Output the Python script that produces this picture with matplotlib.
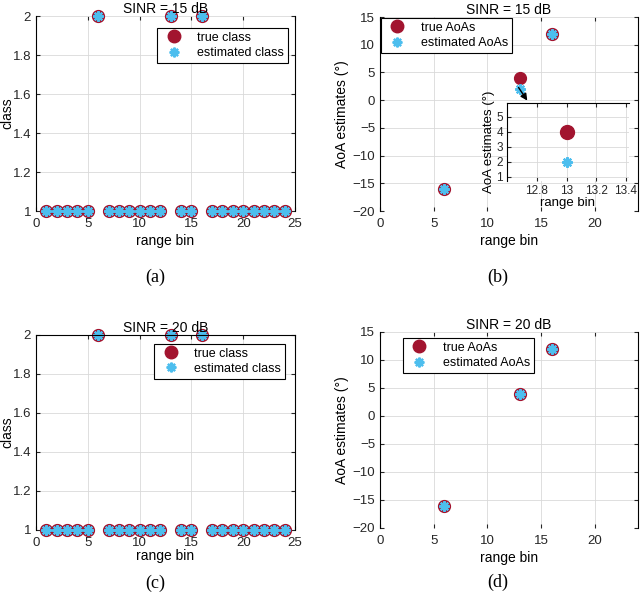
import matplotlib.pyplot as plt
import numpy as np

plt.rcParams['font.family'] = ['Liberation Sans', 'DejaVu Sans']
plt.rcParams['font.size'] = 9

# data
bins = list(range(1, 25))
true_class_15 = [1, 1, 1, 1, 1, 2, 1, 1, 1, 1, 1, 1, 2, 1, 1, 2, 1, 1, 1, 1, 1, 1, 1, 1]
est_class_15 = [1, 1, 1, 1, 1, 2, 1, 1, 1, 1, 1, 1, 2, 1, 1, 2, 1, 1, 1, 1, 1, 1, 1, 1]
true_class_20 = [1, 1, 1, 1, 1, 2, 1, 1, 1, 1, 1, 1, 2, 1, 1, 2, 1, 1, 1, 1, 1, 1, 1, 1]
est_class_20 = [1, 1, 1, 1, 1, 2, 1, 1, 1, 1, 1, 1, 2, 1, 1, 2, 1, 1, 1, 1, 1, 1, 1, 1]

target_bins = [6, 13, 16]
true_aoa_15 = [-16, 4, 12]
est_aoa_15 = [-16, 2, 12]
true_aoa_20 = [-16, 4, 12]
est_aoa_20 = [-16, 4, 12]

RED = '#A2142F'
BLUE = '#4DBEEE'
STAR = (8, 2, 0)

fig = plt.figure(figsize=(6.4, 6.0), dpi=100)


def style(ax, hide_top=True, hide_bottom=True):
    ax.grid(True, color='#d9d9d9', linewidth=0.6)
    ax.set_axisbelow(True)
    ax.tick_params(direction='in', length=3, top=True, right=True,
                   colors='#262626', labelsize=9.5)
    ax.tick_params(axis='x', pad=5)
    for s in ['left', 'right']:
        ax.spines[s].set_color('black')
        ax.spines[s].set_linewidth(0.8)
    ax.spines['top'].set_visible(not hide_top)
    ax.spines['bottom'].set_visible(not hide_bottom)


def draw(ax, x, t, e, ms_t=8.5, ms_e=7.5):
    ax.plot(x, t, 'o', color=RED, markersize=ms_t, linestyle='none')
    ax.plot(x, e, marker=STAR, color=BLUE, markeredgecolor=BLUE, markersize=ms_e,
            markeredgewidth=1.6, linestyle='none')


def legend(ax, labels, loc, anchor):
    h1 = plt.Line2D([], [], marker='o', color=RED, markersize=9, linestyle='none')
    h2 = plt.Line2D([], [], marker=STAR, color=BLUE, markeredgecolor=BLUE,
                    markersize=7, markeredgewidth=1.6, linestyle='none')
    lg = ax.legend([h1, h2], labels, loc=loc, bbox_to_anchor=anchor,
                   fancybox=False, framealpha=1, edgecolor='black',
                   borderpad=0.3, borderaxespad=0, handletextpad=0.9,
                   labelspacing=0.25, handlelength=2.0, fontsize=9)
    lg.get_frame().set_linewidth(0.8)


def ylab(ax, text, xpos):
    ax.set_ylabel(text, fontsize=10)
    ax.yaxis.set_label_coords(xpos, 0.5)


# (a)
ax = fig.add_axes([0.05625, 0.6483, 0.4047, 0.325])
draw(ax, bins, true_class_15, est_class_15)
ax.set_xlim(0, 25)
ax.set_ylim(1, 2)
ax.set_xticks(np.arange(0, 26, 5))
ax.set_yticks(np.arange(1, 2.01, 0.2))
ax.set_yticklabels(['1', '1.2', '1.4', '1.6', '1.8', '2'])
style(ax)
ax.set_title('SINR = 15 dB', fontsize=10, pad=2)
ax.set_xlabel('range bin', fontsize=10, labelpad=3)
ylab(ax, 'class', -0.083)
for m in ax.lines:
    m.set_clip_on(False)
legend(ax, ['true class', 'estimated class'], 'upper right', (0.973, 0.938))

# (b)
ax = fig.add_axes([0.59375, 0.6483, 0.403, 0.3233])
draw(ax, target_bins, true_aoa_15, est_aoa_15)
ax.set_xlim(0, 24)
ax.set_ylim(-20, 15)
ax.set_xticks([0, 5, 10, 15, 20])
ax.set_yticks(np.arange(-20, 16, 5))
style(ax)
ax.set_title('SINR = 15 dB', fontsize=10, pad=2)
ax.set_xlabel('range bin', fontsize=10, labelpad=3)
ylab(ax, 'AoA estimates (°)', -0.12)
legend(ax, ['true AoAs', 'estimated AoAs'], 'upper left', (0.004, 0.995))
ax.annotate('', xy=(13.85, -0.5), xytext=(12.75, 2.7),
            arrowprops=dict(arrowstyle='-|>', color='black', lw=1.0,
                            mutation_scale=10))

# inset
ins = fig.add_axes([0.7922, 0.6983, 0.1906, 0.13])
draw(ins, [13], [true_aoa_15[1]], [est_aoa_15[1]], ms_t=10, ms_e=7.5)
ins.set_xlim(12.6, 13.42)
ins.set_ylim(0.73, 5.9)
ins.set_xticks([12.8, 13, 13.2, 13.4])
ins.set_xticklabels(['12.8', '13', '13.2', '13.4'])
ins.set_yticks([1, 2, 3, 4, 5])
style(ins, hide_top=False)
ins.spines['right'].set_visible(False)
ins.tick_params(labelsize=8.5, pad=3, right=False)
ins.set_xlabel('range bin', fontsize=9.5, labelpad=0)
ins.set_ylabel('AoA estimates (°)', fontsize=9.5, labelpad=1)

# (c)
ax = fig.add_axes([0.05625, 0.1167, 0.4047, 0.325])
draw(ax, bins, true_class_20, est_class_20)
ax.set_xlim(0, 25)
ax.set_ylim(1, 2)
ax.set_xticks(np.arange(0, 26, 5))
ax.set_yticks(np.arange(1, 2.01, 0.2))
ax.set_yticklabels(['1', '1.2', '1.4', '1.6', '1.8', '2'])
style(ax, hide_top=False)
ax.set_title('SINR = 20 dB', fontsize=10, pad=2)
ax.set_xlabel('range bin', fontsize=10, labelpad=0)
ylab(ax, 'class', -0.083)
for m in ax.lines:
    m.set_clip_on(False)
legend(ax, ['true class', 'estimated class'], 'upper right', (0.961, 0.954))

# (d)
ax = fig.add_axes([0.59375, 0.12, 0.403, 0.3267])
draw(ax, target_bins, true_aoa_20, est_aoa_20)
ax.set_xlim(0, 24)
ax.set_ylim(-20, 15)
ax.set_xticks([0, 5, 10, 15, 20])
ax.set_yticks(np.arange(-20, 16, 5))
style(ax)
ax.set_title('SINR = 20 dB', fontsize=10, pad=2)
ax.set_xlabel('range bin', fontsize=10, labelpad=3)
ylab(ax, 'AoA estimates (°)', -0.12)
legend(ax, ['true AoAs', 'estimated AoAs'], 'upper left', (0.089, 0.969))

# captions
for x, y, s in [(0.242, 0.538, '(a)'), (0.777, 0.538, '(b)'),
                (0.242, 0.028, '(c)'), (0.777, 0.03, '(d)')]:
    fig.text(x, y, s, ha='center', va='center', fontsize=13,
             family=['Liberation Serif', 'DejaVu Serif'])

fig.savefig('out.png', dpi=100)
